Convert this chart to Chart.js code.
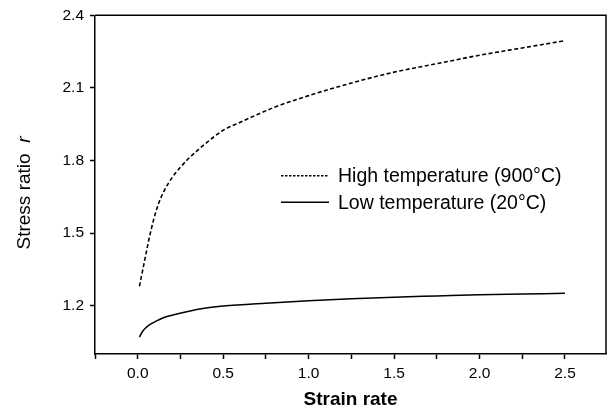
<!DOCTYPE html>
<html>
<head>
<meta charset="utf-8">
<script src="https://cdn.jsdelivr.net/npm/chart.js@4/dist/chart.umd.min.js"></script>
<style>
  html, body { margin: 0; padding: 0; background: #fff; }
  #wrap { width: 609px; height: 411px; position: relative; }
</style>
</head>
<body>
<div id="wrap"><canvas id="c" width="609" height="411"></canvas></div>
<script>
// ---- Data ----
const seriesLabels = ['High temperature (900\u00B0C)', 'Low temperature (20\u00B0C)'];

const strainHigh = [0.01, 0.02, 0.03, 0.04, 0.05, 0.06, 0.07, 0.08, 0.09, 0.10, 0.12, 0.15, 0.20, 0.25, 0.30, 0.35, 0.40, 0.45, 0.50, 0.60, 0.70, 0.80, 1.00, 1.25, 1.50, 1.75, 2.00, 2.25, 2.50];
const ratioHigh  = [1.28, 1.315, 1.35, 1.385, 1.42, 1.455, 1.488, 1.518, 1.547, 1.573, 1.618, 1.668, 1.728, 1.772, 1.81, 1.842, 1.872, 1.90, 1.925, 1.958, 1.99, 2.02, 2.068, 2.12, 2.165, 2.20, 2.235, 2.265, 2.295];

const strainLow = [0.01, 0.03, 0.05, 0.075, 0.10, 0.15, 0.20, 0.30, 0.40, 0.50, 0.75, 1.00, 1.25, 1.50, 1.75, 2.00, 2.25, 2.50];
const ratioLow  = [1.07, 1.095, 1.11, 1.123, 1.133, 1.15, 1.16, 1.177, 1.19, 1.198, 1.21, 1.22, 1.228, 1.235, 1.24, 1.245, 1.248, 1.251];

const xTickValues = [-0.25, 0, 0.25, 0.5, 0.75, 1.0, 1.25, 1.5, 1.75, 2.0, 2.25, 2.5];
const xLabelValues = [0, 0.5, 1.0, 1.5, 2.0, 2.5];
const yTickValues = [1.2, 1.5, 1.8, 2.1, 2.4];

const xTitle = 'Strain rate';
const yTitleMain = 'Stress ratio';
const yTitleSymbol = 'r';

// ---- Chart ----
const FONT = '"Liberation Sans", Arial, sans-serif';

function toPoints(xs, ys) { return xs.map((x, i) => ({ x: x, y: ys[i] })); }

const frameAndLabels = {
  id: 'frameAndLabels',
  afterDraw(chart) {
    const { ctx, chartArea: a } = chart;
    ctx.save();
    ctx.strokeStyle = '#000';
    ctx.lineWidth = 1.5;
    ctx.beginPath();
    ctx.moveTo(a.left, a.top);
    ctx.lineTo(a.right, a.top);
    ctx.lineTo(a.right, a.bottom);
    ctx.stroke();

    // y-axis title with italic symbol
    ctx.translate(25, 193);
    ctx.rotate(-Math.PI / 2);
    ctx.fillStyle = '#000';
    ctx.textBaseline = 'middle';
    ctx.font = '19px ' + FONT;
    const wMain = ctx.measureText(yTitleMain + '  ').width;
    ctx.font = 'italic 19px ' + FONT;
    const wSym = ctx.measureText(yTitleSymbol).width;
    const total = wMain + wSym;
    ctx.textAlign = 'left';
    ctx.font = '19px ' + FONT;
    ctx.fillText(yTitleMain, -total / 2, 0);
    ctx.font = 'italic 19px ' + FONT;
    ctx.fillText(yTitleSymbol, -total / 2 + wMain, 0);
    ctx.restore();

    // legend
    ctx.save();
    const rows = [175.7, 202.3];
    chart.data.datasets.forEach((ds, i) => {
      const y = rows[i];
      ctx.strokeStyle = ds.borderColor;
      ctx.lineWidth = ds.borderWidth;
      ctx.setLineDash(ds.borderDash ? [2.5, 1.5] : []);
      ctx.beginPath();
      ctx.moveTo(281, y);
      ctx.lineTo(329, y);
      ctx.stroke();
      ctx.setLineDash([]);
      ctx.fillStyle = '#000';
      ctx.font = '19.5px ' + FONT;
      ctx.textAlign = 'left';
      ctx.textBaseline = 'middle';
      ctx.fillText(ds.label, 338, y + 1);
    });
    ctx.restore();
  }
};

new Chart(document.getElementById('c'), {
  type: 'scatter',
  data: {
    datasets: [
      {
        label: seriesLabels[0],
        data: toPoints(strainHigh, ratioHigh),
        showLine: true,
        borderColor: '#000',
        borderWidth: 1.6,
        borderDash: [4, 2.5],
        pointRadius: 0,
        cubicInterpolationMode: 'monotone',
        fill: false
      },
      {
        label: seriesLabels[1],
        data: toPoints(strainLow, ratioLow),
        showLine: true,
        borderColor: '#000',
        borderWidth: 1.5,
        pointRadius: 0,
        cubicInterpolationMode: 'monotone',
        fill: false
      }
    ]
  },
  options: {
    responsive: false,
    animation: false,
    events: [],
    layout: { padding: { left: 0, right: 3, top: 15, bottom: 0 } },
    plugins: {
      legend: { display: false },
      tooltip: { enabled: false }
    },
    scales: {
      x: {
        type: 'linear',
        min: -0.25,
        max: 2.74,
        afterBuildTicks(scale) { scale.ticks = xTickValues.map(v => ({ value: v })); },
        afterFit(scale) { scale.height = 57; },
        ticks: {
          autoSkip: false,
          maxRotation: 0,
          padding: 5,
          color: '#000',
          font: { family: FONT, size: 15.5 },
          callback(v) {
            return xLabelValues.some(l => Math.abs(l - v) < 1e-9) ? Number(v).toFixed(1) : '';
          }
        },
        grid: {
          drawOnChartArea: false,
          drawTicks: true,
          tickLength: 5,
          tickWidth: 1.5,
          tickColor: '#000'
        },
        border: { display: true, color: '#000', width: 1.5 },
        title: {
          display: true,
          text: xTitle,
          color: '#000',
          font: { family: FONT, size: 19, weight: 'bold' },
          padding: { top: 0, bottom: 0 }
        }
      },
      y: {
        type: 'linear',
        min: 1.0,
        max: 2.4,
        afterBuildTicks(scale) { scale.ticks = yTickValues.map(v => ({ value: v })); },
        afterFit(scale) { scale.width = 95; },
        ticks: {
          padding: 6,
          color: '#000',
          font: { family: FONT, size: 15.5 },
          callback(v) { return Number(v).toFixed(1); }
        },
        grid: {
          drawOnChartArea: false,
          drawTicks: true,
          tickLength: 5,
          tickWidth: 1.5,
          tickColor: '#000'
        },
        border: { display: true, color: '#000', width: 1.5 }
      }
    }
  },
  plugins: [frameAndLabels]
});
</script>
</body>
</html>
